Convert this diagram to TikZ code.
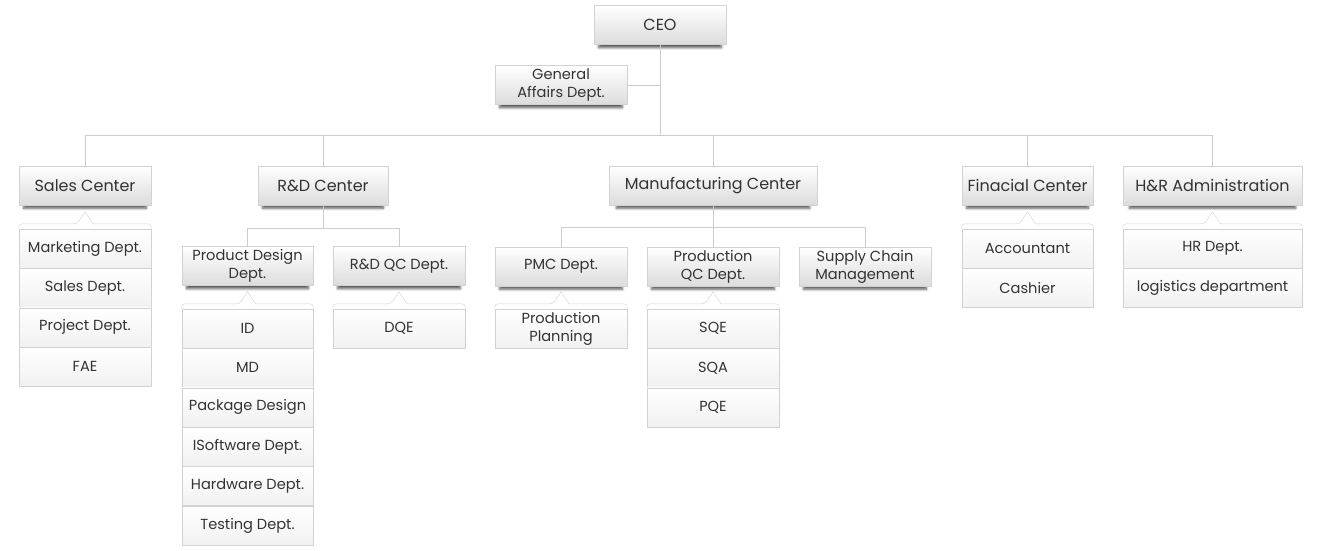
\documentclass[tikz,border=0pt]{standalone}
\usepackage{fontspec}
\setmainfont{Poppins}
\usepackage{tikz}
\usetikzlibrary{calc,positioning,shadows.blur}
\definecolor{boxline}{HTML}{D2D2D2}
\definecolor{boxgrey}{HTML}{DCDCDC}
\definecolor{rowgrey}{HTML}{F1F1F1}
\definecolor{linkgrey}{HTML}{CCCCCC}
\definecolor{txt}{HTML}{333333}
\newcommand{\bigfont}{\fontsize{16}{19}\selectfont}
\newcommand{\smallfont}{\fontsize{14.6}{18}\selectfont}
\tikzset{
  unitbox/.style={draw=boxline, top color=white, bottom color=boxgrey, text=txt,
    font=\bigfont, minimum width=132pt, minimum height=39pt, inner sep=0pt, align=center,
    blur shadow={shadow xshift=0pt, shadow yshift=-5pt, shadow scale=0.93,
      shadow opacity=65, shadow blur radius=2.5pt, shadow blur steps=8}},
  subbox/.style={unitbox, font=\smallfont},
  itembox/.style={draw=boxline, top color=white, bottom color=rowgrey, text=txt,
    font=\smallfont, minimum width=132pt, minimum height=39pt, inner sep=0pt, align=center},
  capline/.style={draw=boxline, fill=white},
  link/.style={draw=linkgrey, line width=0.9pt}
}
\newcommand{\listcap}[1]{%
  \draw[capline] (#1.north west) [rounded corners=3pt] -- ($(#1.north west)+(0,-5)$)
    -- ($(#1.north)+(-8,-5)$) [sharp corners] -- ($(#1.north)+(0,-17)$)
    -- ($(#1.north)+(8,-5)$) [rounded corners=3pt] -- ($(#1.north east)+(0,-5)$)
    [sharp corners] -- (#1.north east);}

\begin{document}
\begin{tikzpicture}[x=1pt,y=-1pt]
\useasboundingbox (0,0) rectangle (1320,550);

\coordinate (bus) at (660,135);
\coordinate (rdbus) at (323,228);
\coordinate (mfbus) at (713,227);

\node[unitbox] (ceo) at (660,25) {CEO};
\node[subbox] (ga) at (561,85) {General\\Affairs Dept.};

\node[unitbox] (sales) at (85,185.5) {Sales Center};
\node[unitbox, minimum width=130pt] (rd) at (323,185.5) {R\&D Center};
\node[unitbox, minimum width=208pt] (mf) at (713,185.5) {Manufacturing Center};
\node[unitbox, minimum width=131pt] (fc) at (1027.5,185.5) {Finacial Center};
\node[unitbox, minimum width=179pt] (hr) at (1212.5,185.5) {H\&R Administration};

\node[subbox, minimum width=131pt] (pd) at (247.5,266) {Product Design\\Dept.};
\node[subbox] (qc) at (399,266) {R\&D QC Dept.};
\node[subbox] (pmc) at (561,266.5) {PMC Dept.};
\node[subbox] (pqc) at (713,266.5) {Production\\QC Dept.};
\node[subbox] (scm) at (865,266.5) {Supply Chain\\Management};

\draw[link] (ceo.south) -- (ceo.south |- bus);
\draw[link] (ga.east) -- (ga.east -| ceo.south);
\draw[link] (sales.north) |- (hr.north |- bus) -- (hr.north);
\draw[link] (rd.north) -- (rd.north |- bus);
\draw[link] (mf.north) -- (mf.north |- bus);
\draw[link] (fc.north) -- (fc.north |- bus);

\draw[link] (rd.south) -- (rd.south |- rdbus);
\draw[link] (pd.north) |- (qc.north |- rdbus) -- (qc.north);
\draw[link] (mf.south) -- (pqc.north);
\draw[link] (pmc.north) |- (scm.north |- mfbus) -- (scm.north);

\node[itembox] (s1) at (85,248.5) {Marketing Dept.};
\node[itembox, below=0pt of s1] (s2) {Sales Dept.};
\node[itembox, below=0pt of s2] (s3) {Project Dept.};
\node[itembox, below=0pt of s3] (s4) {FAE};
\listcap{s1}

\node[itembox, minimum width=131pt] (p1) at (247.5,328.5) {ID};
\node[itembox, minimum width=131pt, below=0pt of p1] (p2) {MD};
\node[itembox, minimum width=131pt, below=0pt of p2] (p3) {Package Design};
\node[itembox, minimum width=131pt, below=0pt of p3] (p4) {ISoftware Dept.};
\node[itembox, minimum width=131pt, below=0pt of p4] (p5) {Hardware Dept.};
\node[itembox, minimum width=131pt, below=0pt of p5] (p6) {Testing Dept.};
\listcap{p1}

\node[itembox] (d1) at (399,328.5) {DQE};
\listcap{d1}

\node[itembox] (m1) at (561,328.5) {Production\\Planning};
\listcap{m1}

\node[itembox] (q1) at (713,328.5) {SQE};
\node[itembox, below=0pt of q1] (q2) {SQA};
\node[itembox, below=0pt of q2] (q3) {PQE};
\listcap{q1}

\node[itembox, minimum width=131pt] (f1) at (1027.5,248.5) {Accountant};
\node[itembox, minimum width=131pt, below=0pt of f1] (f2) {Cashier};
\listcap{f1}

\node[itembox, minimum width=179pt] (h1) at (1212.5,248.5) {HR Dept.};
\node[itembox, minimum width=179pt, below=0pt of h1] (h2) {logistics department};
\listcap{h1}
\end{tikzpicture}
\end{document}
